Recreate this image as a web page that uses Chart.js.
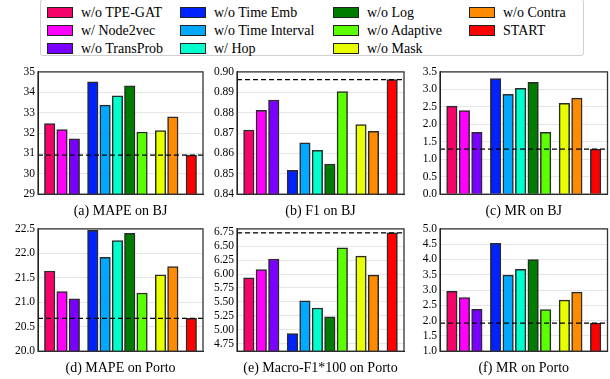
<!DOCTYPE html>
<html>
<head>
<meta charset="utf-8">
<script src="https://cdn.jsdelivr.net/npm/chart.js@4.4.1/dist/chart.umd.min.js"></script>
<style>
    body { margin: 0; width: 610px; height: 379px; position: relative; overflow: hidden; background: #fff; font-family: "Liberation Serif", "Times New Roman", serif; }
    canvas { position: absolute; }
    #legend { position: absolute; left: 40px; top: -1px; width: 544px; height: 57px; border: 1px solid #d0d0d0; border-radius: 3px; box-sizing: border-box; }
    .item { position: absolute; font-family: "Liberation Serif", "Times New Roman", serif; font-size: 14px; line-height: 15px; color: #000; white-space: nowrap; }
    .item span { display: inline-block; width: 26px; height: 11px; border: 1px solid #222; vertical-align: -1px; margin-right: 8px; box-sizing: border-box; }
</style>
</head>
<body>
<div id="legend"></div>
<canvas id="c0" width="205" height="160" style="left:0px;top:62px"></canvas>
<canvas id="c1" width="206" height="160" style="left:200px;top:62px"></canvas>
<canvas id="c2" width="210" height="160" style="left:400px;top:62px"></canvas>
<canvas id="c3" width="205" height="160" style="left:0px;top:219px"></canvas>
<canvas id="c4" width="206" height="160" style="left:200px;top:219px"></canvas>
<canvas id="c5" width="210" height="160" style="left:400px;top:219px"></canvas>
<script>
    // variantes du modèle
    const methods = ['w/o TPE-GAT', 'w/ Node2vec', 'w/o TransProb', 'w/o Time Emb', 'w/o Time Interval', 'w/ Hop',
                     'w/o Log', 'w/o Adaptive', 'w/o Mask', 'w/o Contra', 'START'];
    const slots = [0, 1, 2, 3.5, 4.5, 5.5, 6.5, 7.5, 9, 10, 11.5];

    const mapeBJ       = [32.46, 32.17, 31.72, 34.51, 33.37, 33.83, 34.32, 32.05, 32.12, 32.80, 30.92];
    const f1BJ         = [0.8715, 0.8812, 0.8862, 0.8517, 0.8652, 0.8615, 0.8548, 0.8903, 0.8742, 0.8709, 0.8962];
    const mrBJ         = [2.52, 2.39, 1.77, 3.31, 2.86, 3.03, 3.20, 1.77, 2.60, 2.75, 1.29];
    const mapePorto    = [21.64, 21.22, 21.07, 22.47, 21.92, 22.26, 22.41, 21.19, 21.56, 21.73, 20.67];
    const macroF1Porto = [5.93, 6.08, 6.27, 4.93, 5.52, 5.39, 5.23, 6.47, 6.32, 5.98, 6.74];
    const mrPorto      = [2.96, 2.75, 2.37, 4.53, 3.49, 3.68, 4.00, 2.36, 2.67, 2.93, 1.92];

    const ticksMapeBJ    = [29, 30, 31, 32, 33, 34, 35];
    const ticksF1BJ      = [0.84, 0.85, 0.86, 0.87, 0.88, 0.89, 0.90];
    const ticksMrBJ      = [0.0, 0.5, 1.0, 1.5, 2.0, 2.5, 3.0, 3.5];
    const ticksMapePorto = [20.0, 20.5, 21.0, 21.5, 22.0, 22.5];
    const ticksMacroF1   = [4.75, 5.00, 5.25, 5.50, 5.75, 6.00, 6.25, 6.50, 6.75];
    const ticksMrPorto   = [1.0, 1.5, 2.0, 2.5, 3.0, 3.5, 4.0, 4.5, 5.0];

    const colors = ['#f5036b', '#ff00ff', '#7a00ff', '#0022ff', '#00a8ff', '#00ffcc',
                    '#007c00', '#5aff00', '#e8ff00', '#ff8c00', '#ff0000'];

    const serif = '"Liberation Serif", "Times New Roman", serif';

    // légende en colonnes
    const legend = document.getElementById('legend');
    const colX = [6, 139, 292, 428];
    methods.forEach(function(m, i) {
        const d = document.createElement('div');
        d.className = 'item';
        d.style.left = colX[Math.floor(i / 3)] + 'px';
        d.style.top = (5 + (i % 3) * 18) + 'px';
        d.innerHTML = '<span style="background:' + colors[i] + '"></span>' + m;
        legend.appendChild(d);
    });

    const startLine = {
        id: 'startLine',
        afterDatasetsDraw(chart, args, opts) {
            const ctx = chart.ctx, a = chart.chartArea;
            const y = chart.scales.y.getPixelForValue(opts.value);
            ctx.save();
            ctx.setLineDash([5, 3]);
            ctx.lineWidth = 1.3;
            ctx.strokeStyle = '#000';
            ctx.beginPath();
            ctx.moveTo(a.left, y);
            ctx.lineTo(a.right, y);
            ctx.stroke();
            ctx.restore();
        }
    };

    const frame = {
        id: 'frame',
        afterDraw(chart) {
            const ctx = chart.ctx, a = chart.chartArea;
            ctx.save();
            ctx.strokeStyle = '#333';
            ctx.lineWidth = 1.3;
            ctx.strokeRect(a.left, a.top, a.right - a.left, a.bottom - a.top);
            ctx.restore();
        }
    };

    const panels = [
        { id: 'c0', title: '(a) MAPE on BJ', values: mapeBJ, ticks: ticksMapeBJ, min: 29, max: 35, dec: 0, yw: 38, pr: 2 },
        { id: 'c1', title: '(b) F1 on BJ', values: f1BJ, ticks: ticksF1BJ, min: 0.84, max: 0.90, dec: 2, yw: 37, pr: 2 },
        { id: 'c2', title: '(c) MR on BJ', values: mrBJ, ticks: ticksMrBJ, min: 0, max: 3.5, dec: 1, yw: 40, pr: 2.5 },
        { id: 'c3', title: '(d) MAPE on Porto', values: mapePorto, ticks: ticksMapePorto, min: 20, max: 22.5, dec: 1, yw: 38, pr: 2 },
        { id: 'c4', title: '(e) Macro-F1*100 on Porto', values: macroF1Porto, ticks: ticksMacroF1, min: 4.615, max: 6.81, dec: 2, yw: 37, pr: 2 },
        { id: 'c5', title: '(f) MR on Porto', values: mrPorto, ticks: ticksMrPorto, min: 1, max: 5, dec: 1, yw: 40, pr: 2.5 }
    ];

    panels.forEach(function(p) {
        const datasets = methods.map(function(m, i) {
            return {
                label: m,
                data: [{ x: slots[i], y: p.values[i] }],
                backgroundColor: colors[i],
                borderColor: '#2a2a2a',
                borderWidth: 1.5,
                barThickness: 10.5
            };
        });
        new Chart(document.getElementById(p.id).getContext('2d'), {
            type: 'bar',
            data: { datasets: datasets },
            options: {
                responsive: false,
                animation: false,
                devicePixelRatio: 1,
                datasets: { bar: { grouped: false } },
                layout: { padding: { top: 9, right: p.pr, bottom: 0, left: 0 } },
                plugins: {
                    legend: { display: false },
                    tooltip: { enabled: false },
                    startLine: { value: p.values[p.values.length - 1] }
                },
                scales: {
                    x: {
                        type: 'linear',
                        offset: false,
                        min: -0.95,
                        max: 12.45,
                        grid: { display: false },
                        border: { display: true, color: '#000' },
                        ticks: { display: false },
                        title: {
                            display: true,
                            text: p.title,
                            color: '#000',
                            font: { family: serif, size: 14 },
                            padding: { top: 1, bottom: 2 }
                        }
                    },
                    y: {
                        min: p.min,
                        max: p.max,
                        afterBuildTicks: function(scale) {
                            scale.ticks = p.ticks.map(function(v) { return { value: v }; });
                        },
                        afterFit: function(scale) { scale.width = p.yw; },
                        grid: { color: '#e6e6e6', drawTicks: false },
                        border: { display: true, color: '#000' },
                        ticks: {
                            color: '#000',
                            padding: 3,
                            autoSkip: false,
                            font: { family: serif, size: 11.5 },
                            callback: function(v) { return v.toFixed(p.dec); }
                        }
                    }
                }
            },
            plugins: [startLine, frame]
        });
    });
</script>
</body>
</html>
